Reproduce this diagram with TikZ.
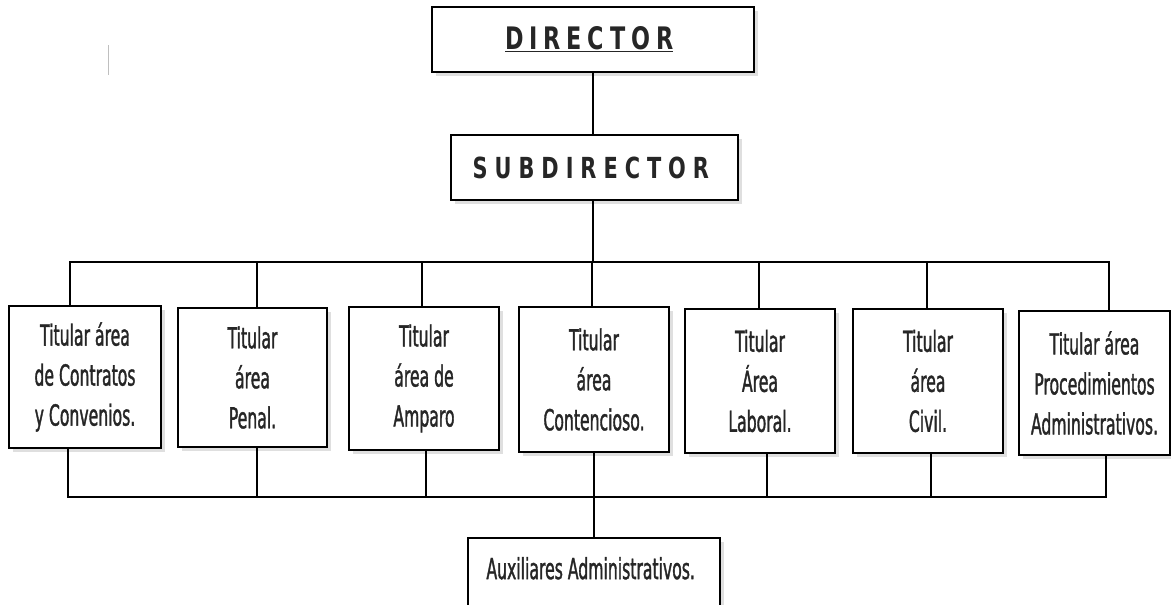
\documentclass[tikz,border=0pt]{standalone}
\usepackage{fontspec}
\setsansfont{DejaVu Sans}[FakeStretch=0.54, FakeBold=1.2]
\newfontfamily\titlefont{DejaVu Sans Bold}[FakeStretch=0.72, LetterSpace=19]
\usetikzlibrary{shadows}
\begin{document}
\begin{tikzpicture}[x=1pt,y=-1pt,
        box/.style={draw, line width=2.2pt, fill=white, align=center, inner sep=0pt,
            font=\sffamily\fontsize{29}{40}\selectfont, text=black!85,
            drop shadow={shadow xshift=4pt, shadow yshift=-4pt, opacity=0.25}},
        area/.style={box, minimum width=150pt, minimum height=143pt},
        link/.style={line width=1.8pt}]
        \useasboundingbox (0,0) rectangle (1171,605);
        \draw[black!25, line width=0.8pt] (108,45) -- (108,75);

        \node[box, minimum width=322pt, minimum height=65pt] (dir) at (593, 39.5)
            { \titlefont\fontsize{31}{32}\selectfont\hspace{6pt}\underline{DIRECTOR} };
        \node[box, minimum width=287pt, minimum height=65pt] (sub) at (594.5, 167.5)
            { \titlefont\fontsize{29}{30}\selectfont\addfontfeatures{LetterSpace=24}\hspace{7pt}SUBDIRECTOR };

        \node[area, minimum width=152pt, minimum height=142pt] (t1) at (85, 377) { Titular área\\de Contratos\\y Convenios. };
        \node[area, minimum width=149pt, minimum height=139pt] (t2) at (252.5, 377.5) { Titular\\área\\Penal. };
        \node[area] (t3) at (424, 378.5) { Titular\\área de\\Amparo };
        \node[area, minimum height=145pt] (t4) at (594, 379.5) { Titular\\área\\Contencioso. };
        \node[area, minimum height=144pt] (t5) at (760, 381) { Titular\\Área\\Laboral. };
        \node[area, minimum height=144pt] (t6) at (928, 381) { Titular\\área\\Civil. };
        \node[area, minimum width=151pt, minimum height=144pt] (t7) at (1094.5, 383) { Titular área\\Procedimientos\\Administrativos. };

        \node[box, anchor=north, minimum width=252pt, text height=31pt, text depth=30pt, inner ysep=10pt] (aux) at (594, 537)
            { Auxiliares Administrativos. };

        \coordinate (hub) at (593, 262);
        \coordinate (low) at (594, 497);

        \draw[link] (dir.south) -- (dir.south |- sub.north);
        \draw[link] (sub.south -| hub) -- (hub);
        \draw[link] ([xshift=-15pt]t1.north) |- (hub);
        \draw[link] ([xshift=14.5pt]t7.north) |- (hub);
        \foreach \t/\dx in {t2/4.5, t3/-2, t4/-2, t5/-1, t6/-1}
            \draw[link] ([xshift=\dx pt]\t.north) -- ([xshift=\dx pt]\t.north |- hub);

        \draw[link] ([xshift=-17pt]t1.south) |- (low);
        \draw[link] ([xshift=11.5pt]t7.south) |- (low);
        \foreach \t/\dx in {t2/4.5, t3/2, t5/7, t6/3}
            \draw[link] ([xshift=\dx pt]\t.south) -- ([xshift=\dx pt]\t.south |- low);
        \draw[link] (t4) -- (aux);
\end{tikzpicture}
\end{document}
